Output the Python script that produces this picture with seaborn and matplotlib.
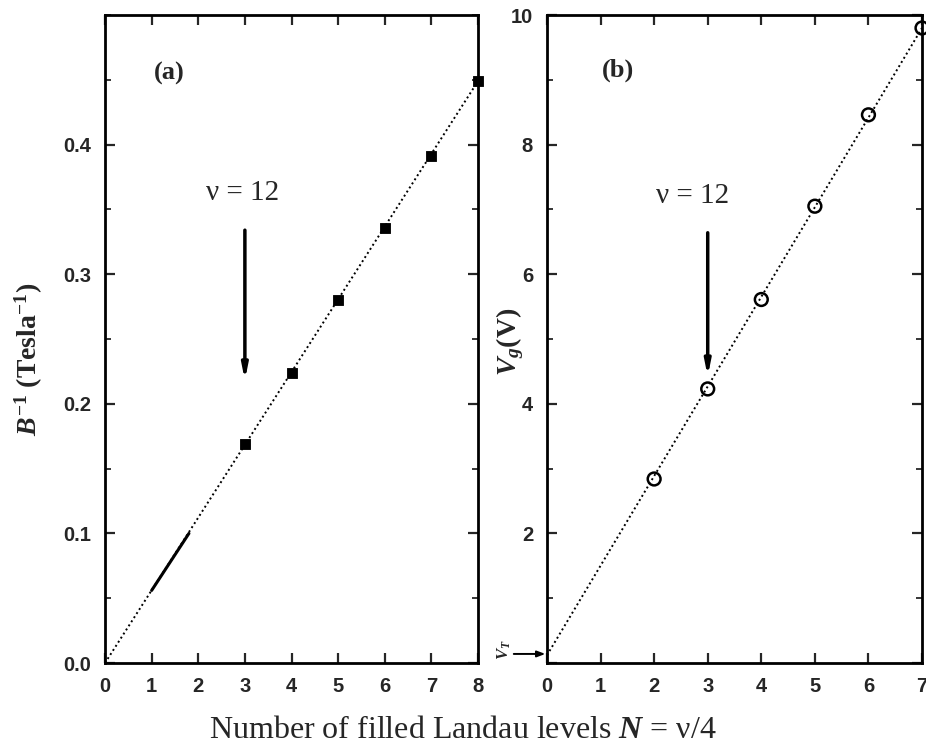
import matplotlib
matplotlib.use("Agg")
import matplotlib.pyplot as plt
import seaborn as sns
from matplotlib.ticker import MultipleLocator

# Landau-level data
N_a = [3, 4, 5, 6, 7, 8]
B_inv = [0.169, 0.224, 0.280, 0.336, 0.391, 0.449]
fit_a_N = [0, 8]
fit_a_B = [0.0, 0.449]
seg_a_N = [1.0, 1.8]
seg_a_B = [0.056, 0.100]

N_b = [2, 3, 4, 5, 6, 7]
Vg = [2.84, 4.23, 5.61, 7.05, 8.46, 9.80]
fit_b_N = [0, 7]
fit_b_V = [0.12, 9.80]

a_xticks = [0, 1, 2, 3, 4, 5, 6, 7, 8]
a_yticks = [0.0, 0.1, 0.2, 0.3, 0.4]
b_xticks = [0, 1, 2, 3, 4, 5, 6, 7]
b_yticks = [0, 2, 4, 6, 8, 10]
b_ytick_labels = ["", "2", "4", "6", "8", "10"]

sns.set_theme(style="ticks")
plt.rcParams.update({
    "font.family": ["Liberation Sans", "DejaVu Sans"],
    "font.weight": "bold",
    "mathtext.fontset": "custom",
    "mathtext.rm": "Liberation Serif:bold",
    "mathtext.it": "Liberation Serif:italic:bold",
    "mathtext.bf": "Liberation Serif:bold",
    "axes.linewidth": 2.0,
    "axes.edgecolor": "black",
    "xtick.direction": "in",
    "ytick.direction": "in",
    "xtick.top": True,
    "ytick.right": True,
})

fig = plt.figure(figsize=(9.26, 7.56), dpi=100)
ax_a = fig.add_axes([0.1134, 0.1230, 0.4028, 0.8571])
ax_b = fig.add_axes([0.5907, 0.1230, 0.4050, 0.8571])

serif = ["Liberation Serif", "DejaVu Serif"]
arrow_style = "-|>,head_length=0.7,head_width=0.14"

# ---- panel (a)
sns.lineplot(x=fit_a_N, y=fit_a_B, ax=ax_a, color="black", lw=1.4,
             linestyle=(0, (1, 1.5)), sort=False)
sns.lineplot(x=seg_a_N, y=seg_a_B, ax=ax_a, color="black", lw=2.2, sort=False)
sns.scatterplot(x=N_a, y=B_inv, ax=ax_a, marker="s", s=60, color="black",
                edgecolor="black", zorder=5, clip_on=False)
ax_a.set_xlim(0, 8)
ax_a.set_ylim(0, 0.5)
ax_a.set_xticks(a_xticks)
ax_a.set_yticks(a_yticks)
ax_a.set_yticklabels([f"{v:.1f}" for v in a_yticks])
ax_a.yaxis.set_minor_locator(MultipleLocator(0.05))
ax_a.set_ylabel(r"$B^{-1}$ (Tesla$^{-1}$)", fontfamily=serif, fontsize=20,
                fontweight="bold")
ax_a.yaxis.set_label_coords(-0.16, 0.468)
ax_a.text(1.05, 0.455, "(a)", fontfamily=serif, fontsize=19, fontweight="bold",
          va="center", ha="left")
ax_a.text(2.95, 0.363, "ν = 12", fontfamily=serif, fontsize=21,
          fontweight="normal", ha="center", va="center")
ax_a.annotate("", xy=(3, 0.218), xytext=(3, 0.334),
              arrowprops=dict(arrowstyle=arrow_style, lw=2.5, color="black",
                              shrinkA=0, shrinkB=0))

# ---- panel (b)
sns.lineplot(x=fit_b_N, y=fit_b_V, ax=ax_b, color="black", lw=1.4,
             linestyle=(0, (1, 1.5)), sort=False)
sns.scatterplot(x=N_b, y=Vg, ax=ax_b, marker="o", s=85, facecolor="none",
                edgecolor="black", linewidth=1.8, zorder=5, clip_on=False)
ax_b.set_xlim(0, 7)
ax_b.set_ylim(0, 10)
ax_b.set_xticks(b_xticks)
ax_b.set_yticks(b_yticks)
ax_b.set_yticklabels(b_ytick_labels)
ax_b.yaxis.set_minor_locator(MultipleLocator(1))
ax_b.set_ylabel(r"$V_g$(V)", fontfamily=serif, fontsize=20, fontweight="bold")
ax_b.yaxis.set_label_coords(-0.055, 0.495)
ax_b.text(1.03, 9.15, "(b)", fontfamily=serif, fontsize=19, fontweight="bold",
          va="center", ha="left")
ax_b.text(2.72, 7.2, "ν = 12", fontfamily=serif, fontsize=21,
          fontweight="normal", ha="center", va="center")
ax_b.annotate("", xy=(3, 4.42), xytext=(3, 6.64),
              arrowprops=dict(arrowstyle=arrow_style, lw=2.5, color="black",
                              shrinkA=0, shrinkB=0))
ax_b.annotate("", xy=(-0.03, 0.14), xytext=(-0.62, 0.14), annotation_clip=False,
              arrowprops=dict(arrowstyle="-|>,head_length=0.4,head_width=0.15",
                              lw=1.4, color="black", shrinkA=0, shrinkB=0))
ax_b.text(-0.8, 0.2, r"$V_T$", fontfamily=serif, fontsize=12, rotation=90,
          ha="center", va="center", clip_on=False)

for ax in (ax_a, ax_b):
    ax.set_xlabel("")
    ax.tick_params(which="major", length=7, width=1.6, pad=10, labelsize=14.5)
    ax.tick_params(which="minor", length=4, width=1.3)
    ax.tick_params(axis="x", which="minor", bottom=False, top=False)
    for lbl in ax.get_xticklabels() + ax.get_yticklabels():
        lbl.set_fontweight("bold")
    for s in ax.spines.values():
        s.set_visible(True)
        s.set_linewidth(2.0)

fig.text(0.5, 0.034, r"Number of filled Landau levels $N$ = ν/4",
         fontfamily=serif, fontsize=23, fontweight="normal",
         ha="center", va="center")

fig.savefig("out.png", dpi=100)
